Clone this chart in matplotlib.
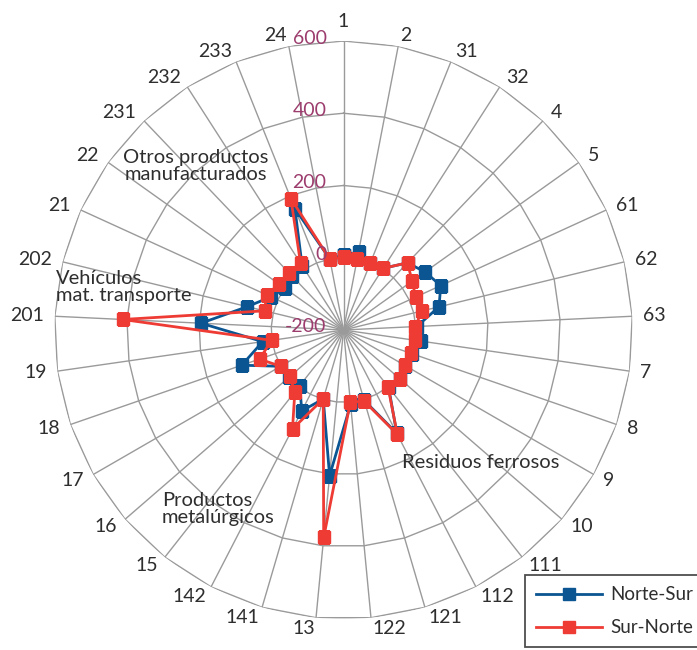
import numpy as np
import matplotlib
matplotlib.use("Agg")
import matplotlib.pyplot as plt
from matplotlib.transforms import offset_copy

categories = ['1', '2', '31', '32', '4', '5', '61', '62', '63', '7', '8', '9', '10',
              '111', '112', '121', '122', '13', '141', '142', '15', '16', '17', '18',
              '19', '201', '202', '21', '22', '231', '232', '233', '24']
norte_sur = [7, 20, 0, 3, 57, 77, 96, 72, 3, 18, 0, -2, 8, 2, 122, 3, 7, 205, -1,
             52, -4, -2, 1, 98, 26, 195, 74, 21, -1, 8, 12, 162, 0]
sur_norte = [2, -1, 0, 3, 57, 33, 20, 23, -1, 0, -2, -4, 6, -1, 125, 6, 0, 377, -1,
             108, 18, -4, 1, 46, 1, 412, 25, 34, 19, 19, 20, 192, -1]
rings = [0, 200, 400, 600]
ring_labels = ['0', '200', '400', '600']
rmin, rmax = -200, 600
series_names = ['Norte-Sur', 'Sur-Norte']

BLUE = '#0A5592'
RED = '#EE3B34'
PURPLE = '#9C3D6E'
GRID = '#9A9A9A'
TXT = '#2E2E2E'

plt.rcParams['font.family'] = ['Lato', 'DejaVu Sans']

W, H = 697, 650
fig = plt.figure(figsize=(W / 100, H / 100), dpi=100)
cx, cy, R = 343.5, 330, 289
ax = fig.add_axes([(cx - R) / W, (H - cy - R) / H, 2 * R / W, 2 * R / H], projection='polar')
ax.set_theta_zero_location('N')
ax.set_theta_direction(-1)
ax.set_ylim(rmin, rmax)
ax.grid(False)
ax.set_xticks([])
ax.set_yticks([])
ax.spines['polar'].set_visible(False)

n = len(categories)
theta = np.arange(n) * 2 * np.pi / n
tc = np.append(theta, theta[0])

# polygon rings
for r in rings:
    ax.plot(tc, [r] * (n + 1), color=GRID, lw=1.0, zorder=1)
# spokes
for t in theta:
    ax.plot([t, t], [rmin, rmax], color=GRID, lw=1.0, zorder=1)

ns = np.append(norte_sur, norte_sur[0])
sn = np.append(sur_norte, sur_norte[0])
l1, = ax.plot(tc, ns, color=BLUE, lw=2.0, marker='s', markersize=8,
              markerfacecolor=BLUE, markeredgecolor=BLUE, zorder=3, label=series_names[0])
l2, = ax.plot(tc, sn, color=RED, lw=2.0, marker='s', markersize=8.5,
              markerfacecolor=RED, markeredgecolor=RED, zorder=4, label=series_names[1])

# category labels
for t, lab in zip(theta, categories):
    s, c = np.sin(t), np.cos(t)
    tr = offset_copy(ax.transData, fig=fig, x=11 * s, y=11 * c, units='dots')
    if abs(s) < 0.02:
        ha = 'center'
    elif s > 0:
        ha = 'left'
    else:
        ha = 'right'
    va = 'bottom' if c > 0.99 else 'center'
    ax.text(t, rmax, lab, transform=tr, ha=ha, va=va, fontsize=14,
            color=TXT, clip_on=False)

# radial tick labels
tr = offset_copy(ax.transData, fig=fig, x=-17, y=3, units='dots')
ax.text(0, rmin, '-200', transform=tr, ha='right', va='center', fontsize=14,
        color=PURPLE, zorder=5)
for r, lab in zip(rings, ring_labels):
    ax.text(0, r, lab, transform=tr, ha='right', va='center', fontsize=14,
            color=PURPLE, zorder=5)

# group annotations
def px(x, y):
    return x / W, 1 - y / H

fig.text(*px(196, 166), 'Otros productos\nmanufacturados', ha='center', va='center',
         fontsize=14.5, color=TXT, linespacing=1.0)
fig.text(*px(56, 287), 'Vehículos\nmat. transporte', ha='left', va='center',
         fontsize=14.5, color=TXT, linespacing=1.0)
fig.text(*px(162, 509), 'Productos\nmetalúrgicos', ha='left', va='center',
         fontsize=14.5, color=TXT, linespacing=1.0)
fig.text(*px(402, 463), 'Residuos ferrosos', ha='left', va='center',
         fontsize=14.5, color=TXT)

leg = fig.legend(handles=[l1, l2], loc='upper left', bbox_to_anchor=px(525, 575),
                 frameon=True, fancybox=False, fontsize=13.5, handlelength=3.5,
                 borderpad=0.6, labelspacing=0.85, handletextpad=0.45,
                 borderaxespad=0)
leg.get_frame().set_edgecolor('#222222')
leg.get_frame().set_linewidth(1.3)
for t in leg.get_texts():
    t.set_color(TXT)

fig.savefig('out.png', dpi=100)
